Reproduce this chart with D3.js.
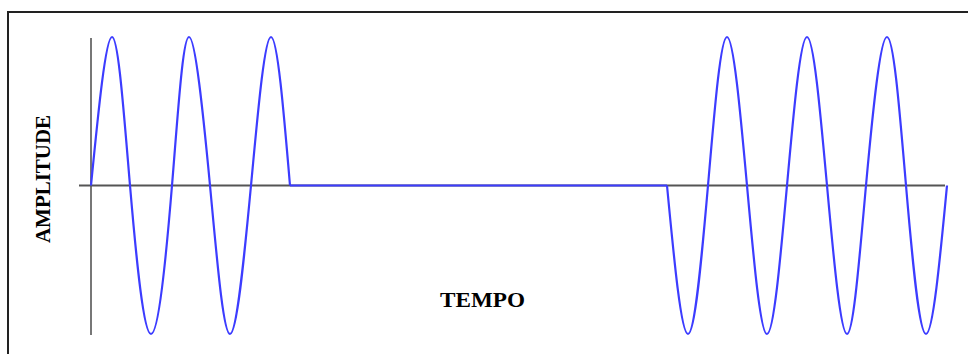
<!DOCTYPE html>
<html>
<head>
<meta charset="utf-8">
<script src="https://cdn.jsdelivr.net/npm/d3@7"></script>
<style>
    body { margin: 0; background: #fff; }
    svg { display: block; }
</style>
</head>
<body>
<div id="divDesenho"></div>
<script>
// first burst, silence, second burst (tempo, amplitude)
const burst1T = [0, 21, 39, 60, 81, 98, 119, 139, 160, 180, 199];
const burst1A = [0, 1, 0, -1, 0, 1, 0, -1, 0, 1, 0];
const silenceT = [199, 576];
const silenceA = [0, 0];
const burst2T = [576, 597, 617, 636, 656, 676, 696, 716, 736, 756, 775, 796, 815, 835, 856];
const burst2A = [0, -1, 0, 1, 0, -1, 0, 1, 0, -1, 0, 1, 0, -1, 0];
const xLabel = "TEMPO";
const yLabel = "AMPLITUDE";

let svg = d3.select("#divDesenho").append("svg")
    .attr("width", 968)
    .attr("height", 354);

let x = d3.scaleLinear().domain([0, 856]).range([91, 947]);
let y = d3.scaleLinear().domain([-1, 1]).range([334, 37]);

// moldura
svg.append("path")
   .attr("d", "M8,360 L8,12 L980,12")
   .attr("fill", "none")
   .attr("stroke", "#222")
   .attr("stroke-width", 2);

// eixos
svg.append("line")
   .attr("x1", x(0)).attr("x2", x(0))
   .attr("y1", y(1) + 1).attr("y2", y(-1) + 1)
   .attr("stroke", "#777")
   .attr("stroke-width", 2);

svg.append("line")
   .attr("x1", x(-12)).attr("x2", x(854))
   .attr("y1", y(0)).attr("y2", y(0))
   .attr("stroke", "#555")
   .attr("stroke-width", 2);

let line = d3.line()
    .x(d => x(d[0]))
    .y(d => y(d[1]))
    .curve(d3.curveNatural);

let segs = [
    d3.zip(burst1T, burst1A),
    d3.zip(silenceT, silenceA),
    d3.zip(burst2T, burst2A)
];

svg.selectAll(".onda")
   .data(segs)
   .join("path")
   .attr("class", "onda")
   .attr("d", line)
   .attr("fill", "none")
   .attr("stroke", "#3c3cff")
   .attr("stroke-width", 2.2);

svg.append("text")
   .attr("x", 440)
   .attr("y", 307)
   .attr("textLength", 85)
   .attr("lengthAdjust", "spacingAndGlyphs")
   .attr("font-family", "Liberation Serif, Times New Roman, serif")
   .attr("font-weight", "bold")
   .attr("font-size", 21)
   .text(xLabel);

svg.append("text")
   .attr("transform", "translate(50,243) rotate(-90)")
   .attr("textLength", 128)
   .attr("lengthAdjust", "spacingAndGlyphs")
   .attr("font-family", "Liberation Serif, Times New Roman, serif")
   .attr("font-weight", "bold")
   .attr("font-size", 21)
   .text(yLabel);
</script>
</body>
</html>
